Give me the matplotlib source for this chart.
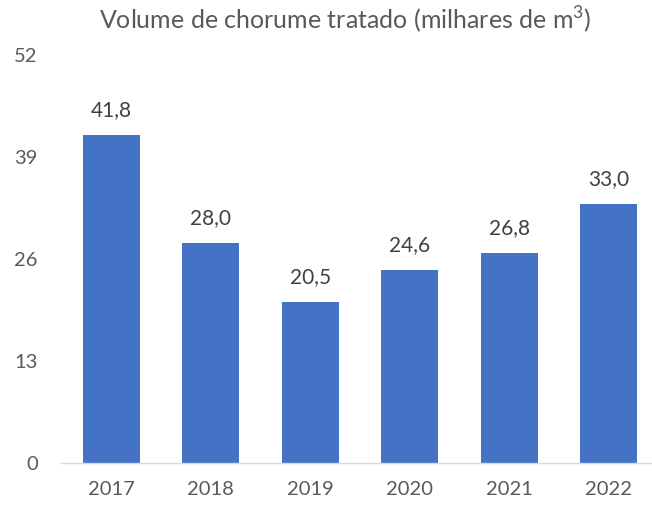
import matplotlib
matplotlib.use("Agg")
import matplotlib.pyplot as plt

years = ["2017", "2018", "2019", "2020", "2021", "2022"]
values = [41.8, 28.0, 20.5, 24.6, 26.8, 33.0]
yticks = [0, 13, 26, 39, 52]
title = "Volume de chorume tratado (milhares de m$^3$)"

plt.rcParams['font.family'] = ['Lato', 'DejaVu Sans']
plt.rcParams['mathtext.fontset'] = 'custom'
plt.rcParams['mathtext.rm'] = 'Lato'

fig = plt.figure(figsize=(6.52, 5.07), dpi=100)
ax = fig.add_axes([61.5/652, 44/507, 597/652, 408/507])
x = list(range(len(years)))
bars = ax.bar(x, values, width=0.57, color="#4472C4", zorder=2)
ax.set_xlim(-0.5, 5.5)
ax.set_ylim(0, 52)
ax.set_yticks(yticks)
ax.set_yticklabels([str(t) for t in yticks])
ax.set_xticks(x)
ax.set_xticklabels(years)
for s in ["top", "right", "left"]:
    ax.spines[s].set_visible(False)
ax.spines["bottom"].set_color("#D9D9D9")
ax.spines["bottom"].set_linewidth(1.0)
ax.tick_params(axis="both", length=0, labelsize=14.5, labelcolor="#595959")
ax.tick_params(axis="y", pad=17)
ax.tick_params(axis="x", pad=13)
for xi, v in zip(x, values):
    ax.annotate(f"{v:.1f}".replace(".", ","), (xi, v), xytext=(0, 18),
                textcoords="offset points", ha="center", va="center",
                fontsize=15, color="#404040")
fig.text(345/652, 1 - 20/507, title, ha="center", va="center",
         fontsize=18, color="#595959")
fig.savefig("out.png", dpi=100)
